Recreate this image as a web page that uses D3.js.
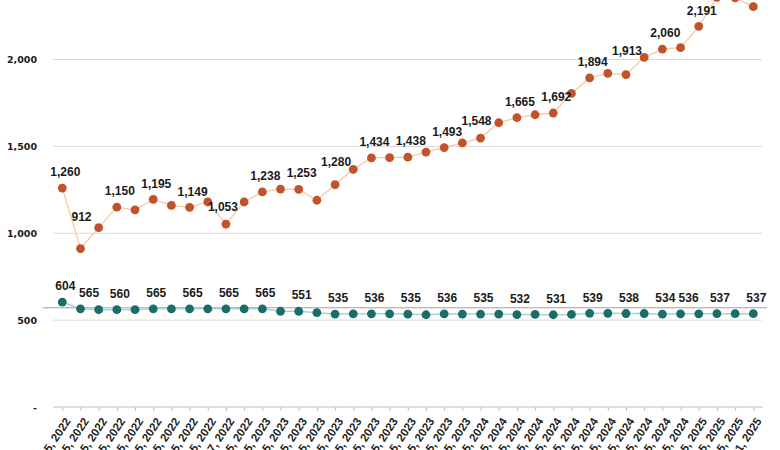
<!DOCTYPE html>
<html><head><meta charset="utf-8">
<script src="https://cdn.jsdelivr.net/npm/d3@7/dist/d3.min.js"></script>
<style>
html,body{margin:0;padding:0;background:#fff;}
svg{display:block;}
</style></head>
<body><div id="chart"></div>
<script>
const dates = [
 "Feb 15, 2022","Mar 15, 2022","Apr 15, 2022","May 15, 2022","Jun 15, 2022","Jul 15, 2022",
 "Aug 15, 2022","Sep 15, 2022","Oct 15, 2022","Nov 17, 2022","Dec 15, 2022",
 "Jan 15, 2023","Feb 15, 2023","Mar 15, 2023","Apr 15, 2023","May 15, 2023","Jun 15, 2023",
 "Jul 15, 2023","Aug 15, 2023","Sep 15, 2023","Oct 15, 2023","Nov 15, 2023","Dec 15, 2023",
 "Jan 15, 2024","Feb 15, 2024","Mar 15, 2024","Apr 15, 2024","May 15, 2024","Jun 15, 2024",
 "Jul 15, 2024","Aug 15, 2024","Sep 15, 2024","Oct 15, 2024","Nov 15, 2024","Dec 15, 2024",
 "Jan 15, 2025","Feb 15, 2025","Mar 15, 2025","Mar 31, 2025"];
const upperSeries = [1260,912,1032,1150,1135,1195,1160,1149,1180,1053,1180,
 1238,1254,1253,1190,1280,1368,1434,1435,1438,1467,1493,1520,
 1548,1636,1665,1682,1692,1805,1894,1920,1913,2012,2060,2068,
 2191,2358,2355,2304];
const lowerSeries = [604,565,560,560,560,565,565,565,565,565,565,
 565,551,551,543,535,536,536,536,535,531,536,535,
 535,535,532,533,531,533,539,539,538,538,534,536,
 536,537,537,537];
const upperLabelIdx = [0,1,3,5,7,9,11,13,15,17,19,21,23,25,27,29,31,33,35,37];
const lowerLabelIdx = [0,1,3,5,7,9,11,13,15,17,19,21,23,25,27,29,31,33,34,36,38];
const yTicks = [0,500,1000,1500,2000];
const refValue = 571;

// label nudges (layout only)
const upperNudge = {1:{dx:1,dy:-32},9:{dx:-3,dy:-17},15:{dx:1,dy:-23},23:{dx:-4,dy:-17},31:{dx:1,dy:-24}};
const lowerNudge = {1:{dx:8.6,dy:-16},34:{dx:8,dy:-16}};

const W=780,H=450;
const svg=d3.select("#chart").append("svg").attr("width",W).attr("height",H);

const x=d3.scalePoint().domain(d3.range(dates.length)).range([62.3,753.3]);
const y=d3.scaleLinear().domain([0,2000]).range([407,59.5]);

// gridlines
svg.append("g").selectAll("line").data(yTicks.filter(d=>d>0)).join("line")
 .attr("x1",53).attr("x2",762).attr("y1",d=>y(d)).attr("y2",d=>y(d))
 .attr("stroke","#d9d9d9").attr("stroke-width",1);

// y axis labels
const yAxis=d3.axisLeft(y).tickValues(yTicks).tickSize(0).tickPadding(0)
 .tickFormat(d=>d===0?"-":d3.format(",")(d));
const ya=svg.append("g").attr("transform","translate(37,0)").call(yAxis);
ya.select(".domain").remove();
ya.selectAll("text").attr("font-family","DejaVu Sans").attr("font-weight","bold")
 .attr("font-size","9.5px").attr("fill","#1a1a1a");

// reference line
svg.append("line").attr("x1",43).attr("x2",767).attr("y1",y(refValue)).attr("y2",y(refValue))
 .attr("stroke","#a0a0a0").attr("stroke-width",1);

// x axis
const xAxis=d3.axisBottom(x).tickSize(4).tickFormat(i=>dates[i]);
const xa=svg.append("g").attr("transform",`translate(0,${y(0)})`).call(xAxis);
xa.select(".domain").attr("d",`M53,0H763`).attr("stroke","#bfbfbf");
xa.selectAll(".tick line").attr("stroke","#bfbfbf");
xa.selectAll("text").attr("font-family","Liberation Sans").attr("font-weight","bold")
 .attr("font-size","11.5px").attr("fill","#222")
 .attr("text-anchor","end").attr("y",0).attr("dy","0.35em")
 .attr("transform","translate(5,12) rotate(-56)");

// lines
const line=d3.line().x((d,i)=>x(i)).y(d=>y(d));
svg.append("path").datum(upperSeries).attr("d",line).attr("fill","none")
 .attr("stroke","#f7c9a1").attr("stroke-width",1.3);
svg.append("path").datum(lowerSeries).attr("d",line).attr("fill","none")
 .attr("stroke","#a9d3d2").attr("stroke-width",1.5);

// points
svg.append("g").selectAll("circle").data(upperSeries).join("circle")
 .attr("cx",(d,i)=>x(i)).attr("cy",d=>y(d)).attr("r",4.4).attr("fill","#c1522a");
svg.append("g").selectAll("circle").data(lowerSeries).join("circle")
 .attr("cx",(d,i)=>x(i)).attr("cy",d=>y(d)).attr("r",4.4).attr("fill","#1a6d6a");

// labels
function labels(series, idx, nudge){
 svg.append("g").selectAll("text").data(idx).join("text")
  .attr("x",i=>x(i)+(nudge[i]?nudge[i].dx:3))
  .attr("y",i=>y(series[i])+(nudge[i]?nudge[i].dy:-16))
  .attr("dy","0.35em").attr("text-anchor","middle")
  .attr("font-family","Liberation Sans").attr("font-weight","bold").attr("font-size","12px")
  .attr("fill","#1a1a1a")
  .text(i=>d3.format(",")(series[i]));
}
labels(upperSeries, upperLabelIdx, upperNudge);
labels(lowerSeries, lowerLabelIdx, lowerNudge);
</script></body></html>
